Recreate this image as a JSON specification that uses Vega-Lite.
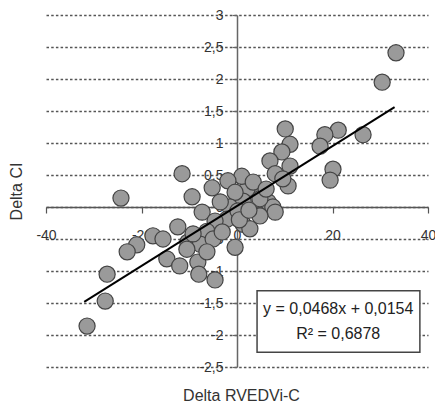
{
  "$schema": "https://vega.github.io/schema/vega-lite/v6.json",
  "width": 382,
  "height": 352,
  "autosize": "none",
  "padding": {"left": 46, "top": 15, "right": 7, "bottom": 40},
  "background": "white",
  "config": {"view": {"stroke": null}, "font": "Liberation Sans"},
  "datasets": {
    "points": [
      {"x": 33.3, "y": 2.41}, {"x": 30.4, "y": 1.95}, {"x": 26.4, "y": 1.13}, {"x": 21.2, "y": 1.2},
      {"x": 18.4, "y": 1.13}, {"x": 17.4, "y": 0.95}, {"x": 20.1, "y": 0.59}, {"x": 19.5, "y": 0.42},
      {"x": 10.1, "y": 1.22}, {"x": 11.1, "y": 0.98}, {"x": 9.4, "y": 0.86}, {"x": 6.9, "y": 0.72},
      {"x": 11.1, "y": 0.64}, {"x": 8.0, "y": 0.52}, {"x": 10.7, "y": 0.33}, {"x": 4.2, "y": 0.28},
      {"x": 6.5, "y": 0.08}, {"x": 7.5, "y": 0.0}, {"x": 8.0, "y": -0.08}, {"x": 4.8, "y": -0.14},
      {"x": 2.1, "y": 0.28}, {"x": 1.3, "y": 0.09}, {"x": 1.0, "y": 0.48}, {"x": -1.9, "y": 0.41},
      {"x": -0.4, "y": 0.23}, {"x": -5.2, "y": 0.3}, {"x": -11.5, "y": 0.52}, {"x": -9.4, "y": 0.16},
      {"x": -7.3, "y": -0.08}, {"x": -24.3, "y": 0.14}, {"x": -1.5, "y": 0.0}, {"x": -2.1, "y": -0.19},
      {"x": -4.6, "y": -0.22}, {"x": 1.3, "y": -0.27}, {"x": 2.7, "y": -0.34}, {"x": -0.4, "y": -0.63},
      {"x": -12.4, "y": -0.31}, {"x": -10.3, "y": -0.55}, {"x": -6.3, "y": -0.38}, {"x": -7.7, "y": -0.58},
      {"x": -5.0, "y": -0.5}, {"x": -17.6, "y": -0.45}, {"x": -21.0, "y": -0.59}, {"x": -23.0, "y": -0.7},
      {"x": -14.7, "y": -0.81}, {"x": -12.0, "y": -0.92}, {"x": -8.2, "y": -0.86}, {"x": -8.0, "y": -1.05},
      {"x": -4.6, "y": -1.14}, {"x": -27.2, "y": -1.05}, {"x": -27.6, "y": -1.47}, {"x": -31.4, "y": -1.86},
      {"x": -3.1, "y": -0.39}, {"x": -9.2, "y": -0.42}, {"x": 4.8, "y": 0.13}, {"x": 9.6, "y": 0.44},
      {"x": 3.4, "y": 0.39}, {"x": 6.1, "y": 0.28}, {"x": 0.2, "y": -0.06}, {"x": -15.5, "y": -0.5},
      {"x": -10.5, "y": -0.66}, {"x": -6.3, "y": -0.7},
      {"x": 0.5, "y": -0.2}, {"x": 2.5, "y": -0.05}, {"x": -3.5, "y": 0.08}
    ],
    "fit": [{"x": -32, "y": -1.4822}, {"x": 33, "y": 1.5598}],
    "box": [{"x": 4.2, "x2": 38.3, "y": -1.31, "y2": -2.27}],
    "eq": [
      {"x": 21.2, "y": -1.59, "label": "y = 0,0468x + 0,0154"},
      {"x": 21.2, "y": -1.99, "label": "R² = 0,6878"}
    ]
  },
  "encoding": {
    "x": {
      "field": "x", "type": "quantitative",
      "scale": {"domain": [-40, 40], "nice": false, "zero": false},
      "axis": {
        "title": "Delta RVEDVi-C", "offset": -160, "values": [-40, -20, 0, 20, 40],
        "grid": false, "domainColor": "#555", "domainWidth": 1.5,
        "tickColor": "#555", "tickSize": 6, "tickWidth": 1.2,
        "labelPadding": 15, "labelFlush": false, "labelOverlap": false,
        "labelFontSize": 14, "labelColor": "#333",
        "labelExpr": "replace(format(datum.value, '~g'), '−', '-')",
        "titleFontSize": 16, "titleFontWeight": "normal", "titleColor": "#333",
        "titleX": 195, "titleY": 188, "titleBaseline": "middle", "titleAlign": "center"
      }
    },
    "y": {
      "field": "y", "type": "quantitative",
      "scale": {"domain": [-2.5, 3], "nice": false, "zero": false},
      "axis": {
        "title": "Delta CI", "offset": -191,
        "values": [-2.5, -2, -1.5, -1, -0.5, 0, 0.5, 1, 1.5, 2, 2.5, 3],
        "grid": true, "gridColor": "#555", "gridDash": [2.5, 2.2], "gridWidth": 1.3,
        "domainColor": "#666", "domainWidth": 1.5,
        "tickColor": "#666", "tickSize": 5, "tickWidth": 1.2,
        "labelPadding": 9, "labelOverlap": false,
        "labelFontSize": 14, "labelColor": "#333",
        "labelExpr": "replace(replace(format(datum.value, '~g'), '.', ','), '−', '-')",
        "titleFontSize": 16, "titleFontWeight": "normal", "titleColor": "#333",
        "titleX": -221, "titleY": 176, "titleBaseline": "middle", "titleAngle": -90
      }
    }
  },
  "layer": [
    {
      "data": {"name": "points"},
      "mark": {"type": "circle", "size": 260, "color": "#9a9a9a", "stroke": "#444", "strokeWidth": 1.2, "opacity": 1}
    },
    {
      "data": {"name": "fit"},
      "mark": {"type": "line", "color": "black", "strokeWidth": 2}
    },
    {
      "data": {"name": "box"},
      "mark": {"type": "rect", "fill": "white", "stroke": "#444", "strokeWidth": 1.5},
      "encoding": {"x2": {"field": "x2"}, "y2": {"field": "y2"}}
    },
    {
      "data": {"name": "eq"},
      "mark": {"type": "text", "fontSize": 16, "color": "#222", "align": "center", "baseline": "middle"},
      "encoding": {"text": {"field": "label"}}
    }
  ]
}
